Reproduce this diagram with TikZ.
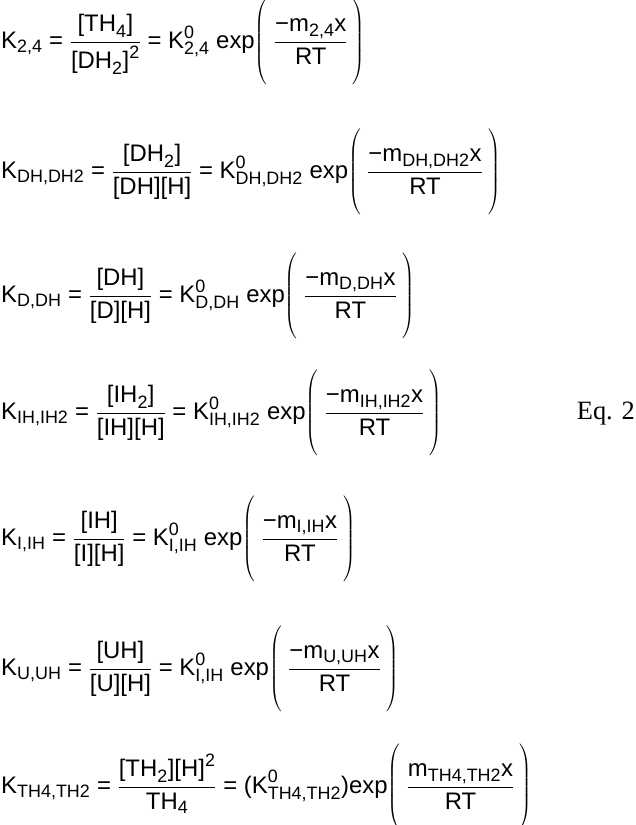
\RequirePackage{fix-cm}
\documentclass[tikz,border=0pt]{standalone}
\usepackage{amsmath}
\usepackage{fontspec}
\setmainfont{Liberation Sans}
\newfontfamily\timesfont{Liberation Serif}
\DeclareMathSizes{24}{24}{18}{13}
\delimiterfactor=1000
\delimitershortfall=0pt
\newcommand\vx[1]{\text{#1}}
\newcommand\eqs{\mathrel{\vx{=}}}
\newcommand\thinlp{\mathopen{\raisebox{2.5pt}{\fontsize{14}{16}\selectfont$\nulldelimiterspace=0pt\left(\vrule height 42.5pt depth 35.5pt width 0pt\right.$}}}
\newcommand\thinrp{\mathclose{\raisebox{2.5pt}{\fontsize{14}{16}\selectfont$\nulldelimiterspace=0pt\left.\vrule height 42.5pt depth 35.5pt width 0pt\right)$}}}
\newcommand\bigpar[1]{\thinlp\mkern5mu #1\mkern4mu\thinrp}
\tikzset{eqn/.style={anchor=base west, inner sep=0pt, font=\fontsize{24}{29}\selectfont}}
\begin{document}
\begin{tikzpicture}[x=1bp,y=-1bp]
\useasboundingbox (0,0) rectangle (636,825);
\node[eqn] (e1) at (1,48) {$\displaystyle \vx{K}_{\vx{2,4}} \eqs \frac{\vx{[TH}_{\vx{4}}\vx{]}}{\vx{[DH}_{\vx{2}}\vx{]}^{\vx{2}}} \eqs \vx{K}^{\vx{0}}_{\vx{2,4}}\;\vx{exp}\bigpar{\frac{\vx{−m}_{\vx{2,4}}\vx{x}}{\vx{RT}}}$};
\node[eqn] (e2) at (1,178) {$\displaystyle \vx{K}_{\vx{DH,DH2}} \eqs \frac{\vx{[DH}_{\vx{2}}\vx{]}}{\vx{[DH][H]}} \eqs \vx{K}^{\vx{0}}_{\vx{DH,DH2}}\;\vx{exp}\bigpar{\frac{\vx{−m}_{\vx{DH,DH2}}\vx{x}}{\vx{RT}}}$};
\node[eqn] (e3) at (1,302) {$\displaystyle \vx{K}_{\vx{D,DH}} \eqs \frac{\vx{[DH]}}{\vx{[D][H]}} \eqs \vx{K}^{\vx{0}}_{\vx{D,DH}}\;\vx{exp}\bigpar{\frac{\vx{−m}_{\vx{D,DH}}\vx{x}}{\vx{RT}}}$};
\node[eqn] (e4) at (1,419) {$\displaystyle \vx{K}_{\vx{IH,IH2}} \eqs \frac{\vx{[IH}_{\vx{2}}\vx{]}}{\vx{[IH][H]}} \eqs \vx{K}^{\vx{0}}_{\vx{IH,IH2}}\;\vx{exp}\bigpar{\frac{\vx{−m}_{\vx{IH,IH2}}\vx{x}}{\vx{RT}}}$};
\node[eqn] (e5) at (1,545) {$\displaystyle \vx{K}_{\vx{I,IH}} \eqs \frac{\vx{[IH]}}{\vx{[I][H]}} \eqs \vx{K}^{\vx{0}}_{\vx{I,IH}}\;\vx{exp}\bigpar{\frac{\vx{−m}_{\vx{I,IH}}\vx{x}}{\vx{RT}}}$};
\node[eqn] (e6) at (1,675) {$\displaystyle \vx{K}_{\vx{U,UH}} \eqs \frac{\vx{[UH]}}{\vx{[U][H]}} \eqs \vx{K}^{\vx{0}}_{\vx{I,IH}}\;\vx{exp}\bigpar{\frac{\vx{−m}_{\vx{U,UH}}\vx{x}}{\vx{RT}}}$};
\node[eqn] (e7) at (1,793) {$\displaystyle \vx{K}_{\vx{TH4,TH2}} \eqs \frac{\vx{[TH}_{\vx{2}}\vx{][H]}^{\vx{2}}}{\vx{TH}_{\vx{4}}} \eqs \vx{(K}^{\vx{0}}_{\vx{TH4,TH2}}\vx{)exp}\bigpar{\frac{\vx{m}_{\vx{TH4,TH2}}\vx{x}}{\vx{RT}}}$};
\node[anchor=base east, inner sep=0pt, font=\timesfont\fontsize{26.5}{30}\selectfont] (lbl) at (635,419) {Eq. 2};
\end{tikzpicture}
\end{document}
